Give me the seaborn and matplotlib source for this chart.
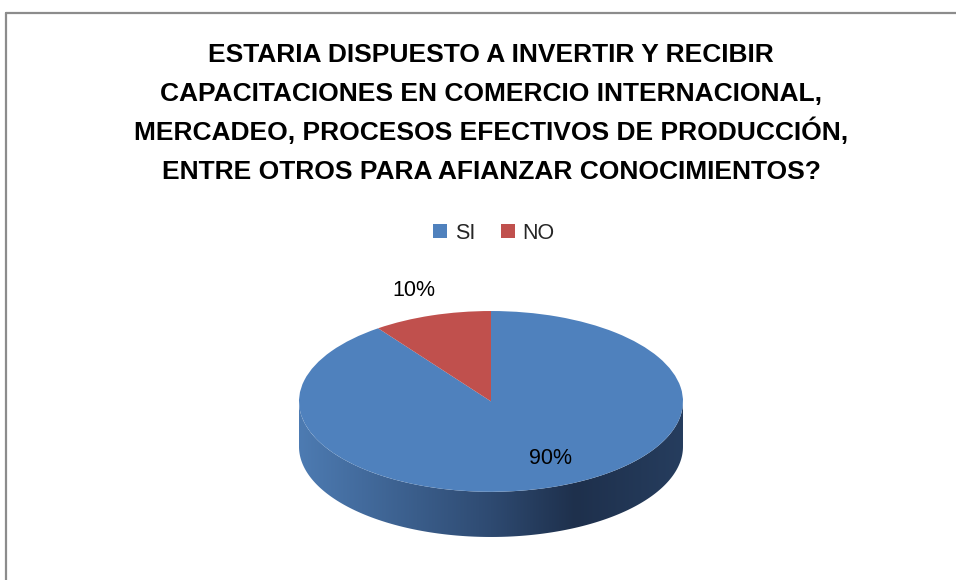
import numpy as np
import matplotlib
matplotlib.use("Agg")
import matplotlib.pyplot as plt
import seaborn as sns
from matplotlib.colors import LinearSegmentedColormap
from matplotlib.patches import Polygon

sns.set_theme(style="white")
plt.rcParams['font.family'] = ['Liberation Sans', 'DejaVu Sans']

# data
categories = ["SI", "NO"]
values = [90, 10]
pct_labels = ["90%", "10%"]
colors = ["#4f81bd", "#c0504d"]
title_lines = ["ESTARIA DISPUESTO A INVERTIR Y RECIBIR",
               "CAPACITACIONES EN COMERCIO INTERNACIONAL,",
               "MERCADEO, PROCESOS EFECTIVOS DE PRODUCCIÓN,",
               "ENTRE OTROS PARA AFIANZAR CONOCIMIENTOS?"]

W, H = 956, 580
fig = plt.figure(figsize=(W / 100, H / 100), dpi=100)

# chart border (top and left visible)
fig.add_artist(plt.Line2D([6 / W, 1], [1 - 13 / H, 1 - 13 / H], color="#8c8c8c", lw=1.6))
fig.add_artist(plt.Line2D([6 / W, 6 / W], [0, 1 - 13 / H], color="#8c8c8c", lw=1.6))

# title, one line at a time so the accent does not shift the spacing
for i, line in enumerate(title_lines):
    fig.text(491 / W, 1 - (62 + 39 * i) / H, line, ha="center", va="baseline",
             fontsize=19, fontweight="bold", color="black")

# pie axes: ellipse 384x180 px, depth 45 px
depth = 0.5
xm = 1.04
cx, top, bot = 491, 311, 537
ry_px = 90
ax_h = (bot - top) + ry_px * 0.08
ax = fig.add_axes([(cx - 192 * xm) / W, (H - bot - ry_px * 0.04) / H, 384 * xm / W, ax_h / H])

# side of the disc with gradient
t = np.linspace(np.pi, 2 * np.pi, 200)
xs = np.cos(t)
ys = np.sin(t)
poly_pts = np.vstack([np.column_stack([xs, ys]), np.column_stack([xs[::-1], ys[::-1] - depth])])
side = Polygon(poly_pts, closed=True, facecolor="none", edgecolor="none")
ax.add_patch(side)
cmap = LinearSegmentedColormap.from_list(
    "side", [(0, "#4d7bb2"), (0.5, "#2e4a71"), (0.72, "#1e304c"), (1, "#263d5e")])
grad = np.linspace(0, 1, 256).reshape(1, -1)
im = ax.imshow(grad, cmap=cmap, extent=[-1, 1, -1 - depth, 0], aspect="auto", zorder=1)
im.set_clip_path(side)

wedges, _ = ax.pie(values, colors=colors, startangle=90, counterclock=False,
                   radius=1, wedgeprops=dict(linewidth=0))
for w in wedges:
    w.set_zorder(2)
ax.set_aspect("auto")
ax.set_xlim(-xm, xm)
ax.set_ylim(-1 - depth - 0.04, 1.04)
ax.axis("off")

# percent labels
label_pos = [(0.31, -0.63), (-0.40, 1.23)]
for (lx, ly), s in zip(label_pos, pct_labels):
    ax.text(lx, ly, s, ha="center", va="center", fontsize=15.5, color="black", clip_on=False)

fig.legend(wedges, categories, loc="center", bbox_to_anchor=(494 / W, 1 - 233 / H),
           ncol=2, frameon=False, fontsize=15.5, handlelength=0.65, handleheight=0.65,
           handletextpad=0.35, columnspacing=1.2)

fig.savefig("out.png", dpi=100)
